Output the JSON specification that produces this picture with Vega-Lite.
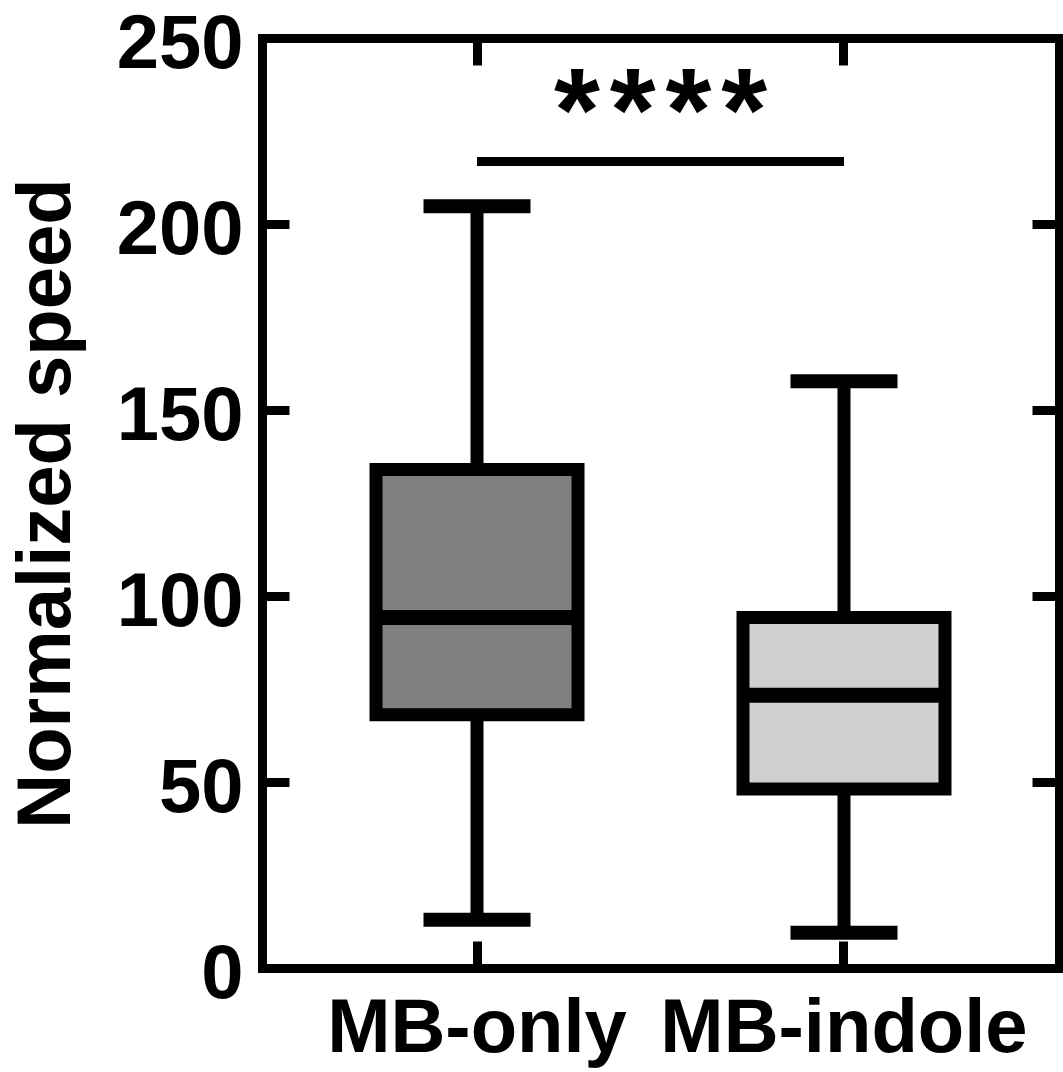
{
  "$schema": "https://vega.github.io/schema/vega-lite/v6.json",
  "autosize": {"type": "none"},
  "padding": {"left": 262, "top": 38, "right": 4, "bottom": 104},
  "width": 797,
  "height": 930,
  "background": "white",
  "config": {
    "view": {"stroke": null},
    "font": "Liberation Sans"
  },
  "datasets": {
    "boxes": [
      {"group": "MB-only", "lower": 13.0, "q1": 68.1, "median": 94.2, "q3": 134.0, "upper": 204.8},
      {"group": "MB-indole", "lower": 9.5, "q1": 48.1, "median": 73.3, "q3": 94.2, "upper": 157.7}
    ],
    "sig": [
      {"from": "MB-only", "to": "MB-indole", "y": 216.8, "label": "*\u200a*\u200a*\u200a*", "ty": 219.6}
    ]
  },
  "layer": [
    {
      "data": {"name": "boxes"},
      "encoding": {
        "x": {
          "field": "group", "type": "nominal", "sort": ["MB-only", "MB-indole"],
          "scale": {"domain": ["MB-only", "MB-indole"], "paddingInner": 0.4496, "paddingOuter": 0.3107},
          "axis": {
            "orient": "bottom", "title": null, "labelAngle": 0,
            "labelFont": "Liberation Sans", "labelFontWeight": "bold", "labelFontSize": 76, "labelColor": "black",
            "labelPadding": 50, "labelLimit": 1000, "labelOverlap": false,
            "tickSize": -27, "tickWidth": 9, "tickColor": "black",
            "domainWidth": 9, "domainColor": "black", "domainCap": "square"
          }
        }
      },
      "layer": [
        {
          "mark": {"type": "rule", "strokeWidth": 13, "color": "black"},
          "encoding": {
            "y": {
              "field": "lower", "type": "quantitative", "title": "Normalized speed",
              "scale": {"domain": [0, 250], "nice": false, "zero": true},
              "axis": {
                "orient": "left", "values": [0, 50, 100, 150, 200, 250], "grid": false,
                "title": "Normalized speed", "titleFont": "Liberation Sans", "titleFontWeight": "bold", "titleFontSize": 76, "titleColor": "black", "titlePadding": 31,
                "labelFont": "Liberation Sans", "labelFontWeight": "bold", "labelFontSize": 76, "labelColor": "black",
                "labelPadding": 46, "labelOffset": 6, "labelFlush": false, "labelOverlap": false,
                "tickSize": -27, "tickWidth": 9, "tickColor": "black",
                "domainWidth": 9, "domainColor": "black", "domainCap": "square"
              }
            },
            "y2": {"field": "upper"}
          }
        },
        {
          "mark": {"type": "bar", "stroke": "black", "strokeWidth": 13, "strokeJoin": "miter"},
          "encoding": {
            "y": {"field": "q1", "type": "quantitative", "title": "Normalized speed"},
            "y2": {"field": "q3"},
            "color": {
              "field": "group", "type": "nominal",
              "scale": {"domain": ["MB-only", "MB-indole"], "range": ["#808080", "#d0d0d0"]},
              "legend": null
            }
          }
        },
        {
          "mark": {"type": "tick", "color": "black", "size": 205, "thickness": 15, "opacity": 1},
          "encoding": {"y": {"field": "median", "type": "quantitative", "title": "Normalized speed"}}
        },
        {
          "mark": {"type": "tick", "color": "black", "size": 107, "thickness": 14, "opacity": 1},
          "encoding": {"y": {"field": "lower", "type": "quantitative", "title": "Normalized speed"}}
        },
        {
          "mark": {"type": "tick", "color": "black", "size": 107, "thickness": 14, "opacity": 1},
          "encoding": {"y": {"field": "upper", "type": "quantitative", "title": "Normalized speed"}}
        }
      ]
    },
    {
      "data": {"name": "sig"},
      "layer": [
        {
          "mark": {"type": "rule", "strokeWidth": 9, "color": "black"},
          "encoding": {
            "x": {
              "field": "from", "type": "nominal",
              "scale": {"domain": ["MB-only", "MB-indole"]},
              "axis": {
                "orient": "top", "title": null, "labels": false,
                "tickSize": -27, "tickWidth": 9, "tickColor": "black",
                "domainWidth": 9, "domainColor": "black", "domainCap": "square"
              }
            },
            "x2": {"field": "to"},
            "y": {
              "field": "y", "type": "quantitative",
              "axis": {
                "orient": "right", "title": null, "labels": false, "grid": false,
                "values": [0, 50, 100, 150, 200, 250],
                "tickSize": -27, "tickWidth": 9, "tickColor": "black",
                "domainWidth": 9, "domainColor": "black", "domainCap": "square"
              }
            }
          }
        },
        {
          "mark": {"type": "text", "font": "Liberation Sans", "fontWeight": "bold", "fontSize": 118, "color": "black", "baseline": "alphabetic", "align": "center"},
          "encoding": {
            "text": {"field": "label"},
            "y": {"field": "ty", "type": "quantitative"}
          }
        }
      ]
    }
  ],
  "resolve": {"axis": {"x": "independent", "y": "independent"}}
}
